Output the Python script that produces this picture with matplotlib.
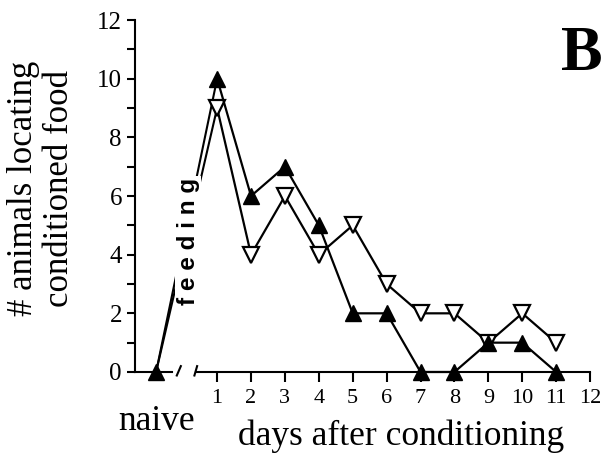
import matplotlib
matplotlib.use("Agg")
import matplotlib.pyplot as plt

# data
days = [1, 2, 3, 4, 5, 6, 7, 8, 9, 10, 11]
naive_x = -0.8
filled = [10, 6, 7, 5, 2, 2, 0, 0, 1, 1, 0]   # solid up-triangles
opened = [9, 4, 6, 4, 5, 3, 2, 2, 1, 2, 1]    # open down-triangles
naive_val = 0
xticks = [1, 2, 3, 4, 5, 6, 7, 8, 9, 10, 11, 12]
yticks = [0, 2, 4, 6, 8, 10, 12]

serif = ["Liberation Serif", "DejaVu Serif"]
plt.rcParams['font.family'] = serif

fig = plt.figure(figsize=(6.14, 4.58), dpi=100)
ax = fig.add_axes([0.22, 0.1878, 0.741, 0.7685])
ax.set_xlim(-1.42, 12)
ax.set_ylim(0, 12)

# lines from naive to day 1 (partly hidden by the "feeding" label)
ax.plot([naive_x, days[0]], [naive_val, opened[0]], color='k', lw=1.5, zorder=2, clip_on=False)
ax.plot([naive_x, days[0]], [naive_val, filled[0]], color='k', lw=1.5, zorder=2, clip_on=False)

ax.plot(days, opened, color='k', lw=1.6, marker='v', ms=12, mfc='white', mec='k', mew=1.6,
        zorder=3, clip_on=False)
ax.plot(days, filled, color='k', lw=1.6, marker='^', ms=11, mfc='k', mec='k',
        zorder=4, clip_on=False)
ax.plot([naive_x], [naive_val], marker='^', ms=11, color='k', zorder=4, clip_on=False)

ax.text(0.15, 4.45, "f e e d i n g", rotation=90, ha='center', va='center',
        family=["Liberation Sans", "DejaVu Sans"], fontweight='bold', fontsize=17.5,
        bbox=dict(facecolor='white', edgecolor='none', pad=1.0), zorder=5)

# axes styling
ax.spines['top'].set_visible(False)
ax.spines['right'].set_visible(False)
ax.spines['bottom'].set_visible(False)
ax.spines['left'].set_linewidth(1.5)
ax.set_yticks(yticks)
ax.set_yticks([1, 3, 5, 7, 9, 11], minor=True)
ax.set_xticks(xticks)
ax.tick_params(axis='y', which='major', length=5.5, width=1.5, labelsize=18, pad=4)
ax.tick_params(axis='y', which='minor', length=5.5, width=1.5)
ax.tick_params(axis='x', which='major', length=7, width=1.5, labelsize=16, pad=5)

# broken x axis line
ax.plot([-1.42, -0.32], [0, 0], color='k', lw=1.5, clip_on=False)
ax.plot([0.38, 12], [0, 0], color='k', lw=1.5, clip_on=False)
ax.plot([-0.19, -0.07], [-0.12, 0.2], color='k', lw=1.5, clip_on=False)
ax.plot([0.33, 0.41], [-0.12, 0.2], color='k', lw=1.5, clip_on=False)

ax.text(naive_x, -1.98, "naive", ha='center', va='baseline', fontsize=25.5)
ax.text(6.43, -2.49, "days after conditioning", ha='center', va='baseline', fontsize=25.5)

fig.text(42 / 614, 1 - 188 / 458, "# animals locating\nconditioned food", rotation=90,
         ha='center', va='center', multialignment='center', fontsize=25, linespacing=1.12)
fig.text(582 / 614, 1 - 55 / 458, "B", ha='center', va='center', fontsize=45,
         fontweight='bold')

fig.savefig("out.png", dpi=100)
